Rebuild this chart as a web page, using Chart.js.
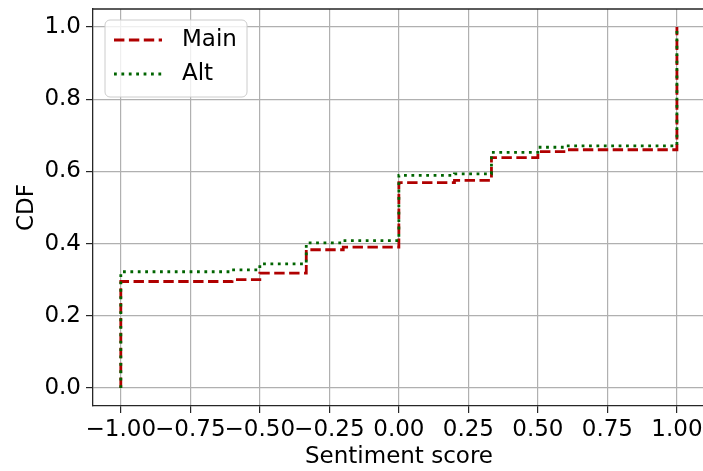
<!DOCTYPE html>
<html>
<head>
<meta charset="utf-8">
<script src="https://cdn.jsdelivr.net/npm/chart.js@4.4.0/dist/chart.umd.min.js"></script>
<style>
  body { margin: 0; background: #fff; overflow: hidden; }
  canvas { display: block; }
</style>
</head>
<body>
<!-- the plot runs a little past the right edge of the page -->
<canvas id="cdfChart" width="705" height="471"></canvas>
<script>
// step points of each empirical CDF (x = sentiment score, y = CDF after the step)
const mainX = [-1.0, -1.0, -0.6, -0.5, -0.333, -0.2, 0.0, 0.2, 0.333, 0.5, 0.6, 1.0];
const mainY = [0.0, 0.295, 0.300, 0.318, 0.383, 0.390, 0.569, 0.575, 0.638, 0.655, 0.660, 1.0];
const altX = [-1.0, -1.0, -0.6, -0.5, -0.333, -0.2, 0.0, 0.2, 0.333, 0.5, 0.6, 1.0];
const altY = [0.0, 0.322, 0.327, 0.344, 0.402, 0.408, 0.589, 0.593, 0.653, 0.667, 0.671, 1.0];

const xTicks = [-1.0, -0.75, -0.5, -0.25, 0.0, 0.25, 0.5, 0.75, 1.0];
const yTicks = [0.0, 0.2, 0.4, 0.6, 0.8, 1.0];

const seriesNames = ['Main', 'Alt'];
const mainColor = '#b00000';
const altColor = '#006400';
const fontFamily = '"DejaVu Sans", sans-serif';
const fontSize = 23;

function toPoints(xs, ys) {
    return xs.map((x, i) => ({ x: x, y: ys[i] }));
}

function fmtX(v) {
    const s = Math.abs(v).toFixed(2);
    return v < 0 ? '\u2212' + s : s;
}

// top and right spines
const frame = {
    id: 'frame',
    afterDraw(chart) {
        const a = chart.chartArea;
        const c = chart.ctx;
        c.save();
        c.strokeStyle = '#262626';
        c.lineWidth = 1.3;
        c.beginPath();
        c.moveTo(a.left, a.top);
        c.lineTo(a.right, a.top);
        c.lineTo(a.right, a.bottom);
        c.stroke();
        c.restore();
    }
};

// legend box in the upper left corner of the plot
const boxLegend = {
    id: 'boxLegend',
    afterDatasetsDraw(chart) {
        const c = chart.ctx;
        const left = 105, top = 20, w = 142, h = 77, r = 5;
        c.save();
        c.beginPath();
        c.roundRect(left, top, w, h, r);
        c.fillStyle = 'rgba(255,255,255,0.8)';
        c.fill();
        c.strokeStyle = '#cccccc';
        c.lineWidth = 1;
        c.stroke();

        const rows = [
            { label: seriesNames[0], color: mainColor, dash: [10.4, 4.5], y: 40 },
            { label: seriesNames[1], color: altColor, dash: [2.8, 4.6], y: 74 }
        ];
        rows.forEach(row => {
            c.beginPath();
            c.setLineDash(row.dash);
            c.strokeStyle = row.color;
            c.lineWidth = 2.8;
            c.moveTo(114, row.y);
            c.lineTo(162, row.y);
            c.stroke();
            c.setLineDash([]);
            c.fillStyle = '#000';
            c.font = fontSize + 'px ' + fontFamily;
            c.textBaseline = 'middle';
            c.textAlign = 'left';
            c.fillText(row.label, 182, row.y);
        });
        c.restore();
    }
};

const ctx = document.getElementById('cdfChart');

const config = {
    type: 'line',
    data: {
        datasets: [{
            label: seriesNames[0],
            data: toPoints(mainX, mainY),
            borderColor: mainColor,
            borderWidth: 2.8,
            borderDash: [10.4, 4.5],
            stepped: 'before',
            pointRadius: 0,
            fill: false,
            order: 1
        }, {
            label: seriesNames[1],
            data: toPoints(altX, altY),
            borderColor: altColor,
            borderWidth: 2.8,
            borderDash: [2.8, 4.6],
            stepped: 'before',
            pointRadius: 0,
            fill: false,
            order: 0
        }]
    },
    options: {
        responsive: false,
        animation: false,
        layout: { padding: { top: 9, right: 0, left: 0, bottom: 0 } },
        plugins: {
            legend: { display: false },
            tooltip: { enabled: false }
        },
        scales: {
            x: {
                type: 'linear',
                min: -1.1,
                max: 1.101,
                afterBuildTicks: scale => { scale.ticks = xTicks.map(v => ({ value: v })); },
                afterFit: scale => {
                    scale.height = 65;
                    scale.paddingLeft = 0;
                    scale.paddingRight = 0;
                },
                ticks: {
                    autoSkip: false,
                    maxRotation: 0,
                    padding: 3,
                    color: '#000',
                    font: { family: fontFamily, size: fontSize },
                    callback: v => fmtX(v)
                },
                grid: { color: '#b0b0b0', lineWidth: 1.2, tickLength: 7, tickColor: '#262626' },
                border: { color: '#262626', width: 1.3 },
                title: {
                    display: true,
                    text: 'Sentiment score',
                    color: '#000',
                    font: { family: fontFamily, size: fontSize },
                    padding: { top: 0, bottom: 0 }
                }
            },
            y: {
                min: -0.05,
                max: 1.05,
                afterBuildTicks: scale => { scale.ticks = yTicks.map(v => ({ value: v })); },
                afterFit: scale => {
                    scale.width = 93;
                    scale.paddingTop = 0;
                    scale.paddingBottom = 0;
                },
                ticks: {
                    padding: 5,
                    color: '#000',
                    font: { family: fontFamily, size: fontSize },
                    callback: v => v.toFixed(1)
                },
                grid: { color: '#b0b0b0', lineWidth: 1.2, tickLength: 7, tickColor: '#262626' },
                border: { color: '#262626', width: 1.3 },
                title: {
                    display: true,
                    text: 'CDF',
                    color: '#000',
                    font: { family: fontFamily, size: fontSize },
                    padding: { top: 13, bottom: 0 }
                }
            }
        }
    },
    plugins: [frame, boxLegend]
};

new Chart(ctx, config);
</script>
</body>
</html>
